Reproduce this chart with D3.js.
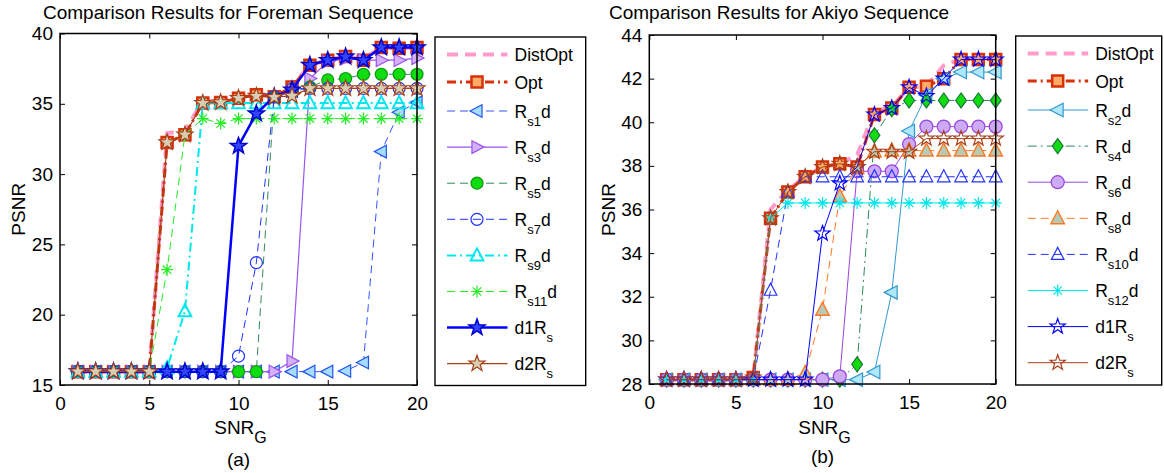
<!DOCTYPE html>
<html>
<head>
<meta charset="utf-8">
<script src="https://cdn.jsdelivr.net/npm/d3@7"></script>
<style>
body{margin:0;background:#fff}
svg{display:block}
text{font-family:"Liberation Sans",Arial,Helvetica,sans-serif}
</style>
</head>
<body>
<svg id="c" width="1164" height="473"></svg>
<script>
// ---------------- data ----------------
const snrG = [1,2,3,4,5,6,7,8,9,10,11,12,13,14,15,16,17,18,19,20];
const xTicks = [0,5,10,15,20];
const foremanTicksY = [15,20,25,30,35,40];
const akiyoTicksY = [28,30,32,34,36,38,40,42,44];

const foremanLabels = ["DistOpt","Opt","R_{s1}d","R_{s3}d","R_{s5}d","R_{s7}d","R_{s9}d","R_{s11}d","d1R_{s}","d2R_{s}"];
const akiyoLabels   = ["DistOpt","Opt","R_{s2}d","R_{s4}d","R_{s6}d","R_{s8}d","R_{s10}d","R_{s12}d","d1R_{s}","d2R_{s}"];

// Foreman sequence (PSNR vs SNR_G)
const foremanDistOpt = [15.95,15.95,15.95,15.95,15.95,32.9,33.1,35.2,35.2,35.5,35.6,35.6,36.3,37.75,38.1,38.4,38.2,39.0,38.95,39.0];
const foremanOpt     = [15.95,15.95,15.95,15.95,15.95,32.25,32.8,35.05,35.1,35.4,35.65,35.5,36.2,37.75,38.1,38.37,38.1,39.0,38.95,39.0];
const foremanRs1     = [15.95,15.95,15.95,15.95,15.95,15.95,15.95,15.95,15.95,15.95,15.95,15.95,15.95,15.95,15.95,16.0,16.6,31.6,34.4,35.1];
const foremanRs3     = [15.95,15.95,15.95,15.95,15.95,15.95,15.95,15.95,15.95,15.95,15.95,15.95,16.7,36.8,38.0,38.2,38.1,38.1,38.1,38.25];
const foremanRs5     = [15.95,15.95,15.95,15.95,15.95,15.95,15.95,15.95,15.95,15.95,15.95,35.5,35.8,36.2,36.7,36.8,37.1,37.1,37.1,37.1];
const foremanRs7     = [15.95,15.95,15.95,15.95,15.95,15.95,15.95,15.95,15.95,17.05,23.7,35.5,36.05,36.1,36.1,36.1,36.1,36.1,36.1,36.1];
const foremanRs9     = [15.95,15.95,15.95,15.95,15.95,16.2,20.25,35.05,35.05,35.05,35.05,35.05,35.05,35.05,35.05,35.05,35.05,35.05,35.05,35.05];
const foremanRs11    = [15.95,15.95,15.95,15.95,15.95,23.2,32.8,33.95,33.6,33.95,33.95,33.95,33.95,33.95,33.95,33.95,33.95,33.95,33.95,33.95];
const foremanD1Rs    = [15.95,15.95,15.95,15.95,15.95,15.95,15.95,15.95,15.95,32.0,34.3,35.5,36.0,37.75,38.1,38.35,38.1,39.0,39.0,39.0];
const foremanD2Rs    = [15.95,15.95,15.95,15.95,15.95,32.25,32.8,35.05,35.1,35.4,35.55,35.47,35.56,36.1,36.1,36.1,36.1,36.1,36.1,36.1];

// Akiyo sequence (PSNR vs SNR_G)
const akiyoDistOpt = [28.2,28.2,28.2,28.2,28.2,28.3,36.0,36.9,37.5,37.95,38.1,38.5,40.5,40.7,41.6,41.65,42.6,42.9,42.9,42.9];
const akiyoOpt     = [28.2,28.2,28.2,28.2,28.2,28.3,35.6,36.8,37.5,37.95,38.1,37.95,40.35,40.65,41.6,41.65,42.0,42.88,42.88,42.88];
const akiyoRs2     = [28.2,28.2,28.2,28.2,28.2,28.2,28.2,28.2,28.2,28.2,28.2,28.2,28.55,32.2,39.6,41.25,42.0,42.3,42.3,42.3];
const akiyoRs4     = [28.2,28.2,28.2,28.2,28.2,28.2,28.2,28.2,28.2,28.2,28.2,28.9,39.4,40.6,41.0,41.0,41.0,41.0,41.0,41.0];
const akiyoRs6     = [28.2,28.2,28.2,28.2,28.2,28.2,28.2,28.2,28.2,28.2,28.35,37.75,37.75,37.75,39.0,39.8,39.8,39.8,39.8,39.8];
const akiyoRs8     = [28.2,28.2,28.2,28.2,28.2,28.2,28.2,28.2,28.5,31.4,36.6,37.9,38.65,38.7,38.7,38.7,38.7,38.7,38.7,38.7];
const akiyoRs10    = [28.2,28.2,28.2,28.2,28.2,28.2,32.3,36.8,37.5,37.5,37.5,37.5,37.5,37.5,37.5,37.5,37.5,37.5,37.5,37.5];
const akiyoRs12    = [28.2,28.2,28.2,28.2,28.2,28.2,35.6,36.3,36.3,36.3,36.3,36.3,36.3,36.3,36.3,36.3,36.3,36.3,36.3,36.3];
const akiyoD1Rs    = [28.2,28.2,28.2,28.2,28.2,28.2,28.2,28.2,28.2,34.9,37.2,37.95,40.35,40.65,41.6,41.2,42.0,42.88,42.88,42.88];
const akiyoD2Rs    = [28.2,28.2,28.2,28.2,28.2,28.3,35.6,36.8,37.5,37.95,38.1,37.95,38.65,38.65,38.65,39.25,39.25,39.25,39.25,39.25];

// ---------------- drawing ----------------
const svg = d3.select("#c");
const DASH = "8,5", DASHDOT = "9,4,2,4", PINKDASH = "11,7";

function starPath(r){
  let p = "";
  for (let i = 0; i < 10; i++){
    const a = -Math.PI/2 + i*Math.PI/5;
    const rr = (i % 2) ? r*0.4 : r;
    p += (i ? "L" : "M") + (rr*Math.cos(a)).toFixed(2) + "," + (rr*Math.sin(a)).toFixed(2);
  }
  return p + "Z";
}
function markerPath(type, r){
  switch(type){
    case "square": return `M${-r},${-r}h${2*r}v${2*r}h${-2*r}Z`;
    case "circle": return `M${r},0A${r},${r} 0 1,1 ${-r},0A${r},${r} 0 1,1 ${r},0Z`;
    case "triUp": return `M0,${-r}L${r*0.9},${r*0.72}L${-r*0.9},${r*0.72}Z`;
    case "triLeft": return `M${-r},0L${r*0.72},${-r*0.9}L${r*0.72},${r*0.9}Z`;
    case "triRight": return `M${r},0L${-r*0.72},${-r*0.9}L${-r*0.72},${r*0.9}Z`;
    case "diamond": return `M0,${-r}L${r*0.72},0L0,${r}L${-r*0.72},0Z`;
    case "asterisk": {
      const k = r*0.7;
      return `M${-r},0L${r},0M0,${-r}L0,${r}M${-k},${-k}L${k},${k}M${-k},${k}L${k},${-k}`;
    }
    case "star": return starPath(r);
  }
  return "";
}

function richText(sel, label, size, subSize, subDy){
  const parts = [];
  const re = /_\{([^}]*)\}|([^_]+)/g;
  let m;
  while ((m = re.exec(label)) !== null){
    if (m[1] !== undefined) parts.push({t:m[1], sub:true});
    else parts.push({t:m[2], sub:false});
  }
  let shifted = false;
  parts.forEach(p => {
    const ts = sel.append("tspan").text(p.t);
    if (p.sub){
      ts.attr("font-size", subSize).attr("dy", subDy);
      shifted = true;
    } else {
      ts.attr("font-size", size);
      if (shifted){ ts.attr("dy", -subDy); shifted = false; }
    }
  });
}

function drawPanel(p){
  const g = svg.append("g");
  const x = d3.scaleLinear().domain([0,20]).range([p.left, p.right]);
  const y = d3.scaleLinear().domain(p.yDomain).range([p.bottom, p.top]);

  // axes with inward ticks on all four sides
  const styleAxis = sel => {
    sel.select(".domain").remove();
    sel.selectAll("line").attr("stroke","#000").attr("stroke-width",1);
    sel.selectAll("text").attr("font-family",'"Liberation Sans",Arial,sans-serif').attr("font-size",19).attr("fill","#000");
  };
  g.append("g").attr("transform",`translate(0,${p.bottom})`)
    .call(d3.axisBottom(x).tickValues(xTicks).tickSizeInner(-5).tickSizeOuter(0).tickPadding(12).tickFormat(d3.format("d")))
    .call(styleAxis);
  g.append("g").attr("transform",`translate(0,${p.top})`)
    .call(d3.axisTop(x).tickValues(xTicks).tickSizeInner(-5).tickSizeOuter(0).tickFormat(""))
    .call(styleAxis);
  g.append("g").attr("transform",`translate(${p.left},0)`)
    .call(d3.axisLeft(y).tickValues(p.yTicks).tickSizeInner(-5).tickSizeOuter(0).tickPadding(7).tickFormat(d3.format("d")))
    .call(styleAxis);
  g.append("g").attr("transform",`translate(${p.right},0)`)
    .call(d3.axisRight(y).tickValues(p.yTicks).tickSizeInner(-5).tickSizeOuter(0).tickFormat(""))
    .call(styleAxis);

  // series
  const line = d3.line().x((d,i) => x(snrG[i])).y(d => y(d));
  p.series.forEach(s => {
    const sg = g.append("g");
    sg.append("path").attr("d", line(s.values))
      .attr("fill","none").attr("stroke", s.color).attr("stroke-width", s.lw)
      .attr("stroke-dasharray", s.dash || null);
    if (s.marker){
      sg.selectAll("path.m").data(s.values).join("path").attr("class","m")
        .attr("transform",(d,i) => `translate(${x(snrG[i])},${y(d)})`)
        .attr("d", markerPath(s.marker, s.ms))
        .attr("fill", s.fill || "none")
        .attr("stroke", s.mstroke || s.color)
        .attr("stroke-width", s.mlw || 1.2);
    }
  });

  // frame
  g.append("rect").attr("x",p.left).attr("y",p.top)
    .attr("width",p.right-p.left).attr("height",p.bottom-p.top)
    .attr("fill","none").attr("stroke","#000").attr("stroke-width",1.5);

  const cx = (p.left + p.right)/2;
  // title
  g.append("text").attr("x",p.titleX).attr("y",18.5).attr("text-anchor","start")
    .attr("font-size",19).text(p.title);
  // y label
  g.append("text").attr("transform",`translate(${p.ylabX},${(p.top+p.bottom)/2}) rotate(-90)`)
    .attr("text-anchor","middle").attr("font-size",19).text("PSNR");
  // x label
  const xl = g.append("text").attr("x",cx + 2).attr("y",p.xlabY).attr("text-anchor","middle");
  richText(xl, "SNR_{G}", 19, 16, 9);
  // caption
  g.append("text").attr("x",cx).attr("y",p.capY).attr("text-anchor","middle")
    .attr("font-size",19).text(p.caption);

  // legend
  const L = p.legend;
  g.append("rect").attr("x",L.x).attr("y",L.y).attr("width",L.w).attr("height",L.h)
    .attr("fill","#fff").attr("stroke","#000").attr("stroke-width",1.4);
  p.series.forEach((s,i) => {
    const ry = i === 0 ? L.y + 17.5 : (i === 1 ? L.y + 45 : L.y + 74 + (i-2)*36.1);
    const lg = g.append("g");
    lg.append("line").attr("x1",L.x+12).attr("x2",L.x+72.5).attr("y1",ry).attr("y2",ry)
      .attr("stroke", s.color).attr("stroke-width", s.lw).attr("stroke-dasharray", s.dash || null);
    if (s.marker){
      lg.append("path").attr("transform",`translate(${L.x+42},${ry})`)
        .attr("d", markerPath(s.marker, s.ms))
        .attr("fill", s.fill || "none").attr("stroke", s.mstroke || s.color)
        .attr("stroke-width", s.mlw || 1.2);
    }
    const t = lg.append("text").attr("x",L.x+79.5).attr("y",ry+6.5).attr("font-size",17.5);
    richText(t, s.label, 17.5, 13, 8);
  });
}

// ----- Foreman panel -----
drawPanel({
  left:60, right:417, top:33.5, bottom:385,
  yDomain:[15,40], yTicks:foremanTicksY,
  title:"Comparison Results for Foreman Sequence", titleX:43,
  ylabX:25, xlabY:434, capY:466, caption:"(a)",
  legend:{x:435, y:37, w:150.7, h:348.5},
  series:[
    {label:foremanLabels[0], values:foremanDistOpt, color:"#ff9ccc", lw:4, dash:PINKDASH},
    {label:foremanLabels[1], values:foremanOpt, color:"#d83008", lw:3, dash:DASHDOT, marker:"square", ms:5.5, fill:"#ffaa66", mstroke:"#d83008", mlw:2.5},
    {label:foremanLabels[2], values:foremanRs1, color:"#3355ff", lw:1, dash:DASH, marker:"triLeft", ms:7, fill:"#a6dcff", mstroke:"#2255ee"},
    {label:foremanLabels[3], values:foremanRs3, color:"#9955ee", lw:1.2, marker:"triRight", ms:7, fill:"#d5b0f7", mstroke:"#9955ee"},
    {label:foremanLabels[4], values:foremanRs5, color:"#2e8b57", lw:1, dash:DASH, marker:"circle", ms:6, fill:"#10dd10", mstroke:"#0a9a0a"},
    {label:foremanLabels[5], values:foremanRs7, color:"#2233ff", lw:1, dash:DASH, marker:"circle", ms:6, fill:"none", mstroke:"#2233ff"},
    {label:foremanLabels[6], values:foremanRs9, color:"#00e8ee", lw:2, dash:DASHDOT, marker:"triUp", ms:7, fill:"none", mstroke:"#00e8ee", mlw:2},
    {label:foremanLabels[7], values:foremanRs11, color:"#22ee22", lw:1, dash:DASH, marker:"asterisk", ms:6, mstroke:"#22ee22", mlw:1.2},
    {label:foremanLabels[8], values:foremanD1Rs, color:"#0000ff", lw:2.5, marker:"star", ms:8.5, fill:"#3344ff", mstroke:"#0000cc", mlw:1.5},
    {label:foremanLabels[9], values:foremanD2Rs, color:"#a8401a", lw:1.2, marker:"star", ms:8.5, fill:"#d6cfb4", mstroke:"#a8401a", mlw:1.2}
  ]
});

// ----- Akiyo panel -----
drawPanel({
  left:649.3, right:995.7, top:35, bottom:384,
  yDomain:[28,44], yTicks:akiyoTicksY,
  title:"Comparison Results for Akiyo Sequence", titleX:609,
  ylabX:615, xlabY:434, capY:463, caption:"(b)",
  legend:{x:1015.7, y:36, w:146, h:349},
  series:[
    {label:akiyoLabels[0], values:akiyoDistOpt, color:"#ff9ccc", lw:4, dash:PINKDASH},
    {label:akiyoLabels[1], values:akiyoOpt, color:"#d83008", lw:3, dash:DASHDOT, marker:"square", ms:5.5, fill:"#ffaa66", mstroke:"#d83008", mlw:2.5},
    {label:akiyoLabels[2], values:akiyoRs2, color:"#3399cc", lw:1, marker:"triLeft", ms:7.5, fill:"#aee6fb", mstroke:"#3399cc"},
    {label:akiyoLabels[3], values:akiyoRs4, color:"#2e8b57", lw:1, dash:DASHDOT, marker:"diamond", ms:7.5, fill:"#10dd10", mstroke:"#1a7a3a"},
    {label:akiyoLabels[4], values:akiyoRs6, color:"#9944dd", lw:1, marker:"circle", ms:6.5, fill:"#ccaaf5", mstroke:"#9944dd"},
    {label:akiyoLabels[5], values:akiyoRs8, color:"#ff7722", lw:1, dash:DASH, marker:"triUp", ms:7.5, fill:"#b5cbb5", mstroke:"#ff7722", mlw:1.4},
    {label:akiyoLabels[6], values:akiyoRs10, color:"#2233ff", lw:1, dash:DASH, marker:"triUp", ms:7, fill:"none", mstroke:"#2233ff"},
    {label:akiyoLabels[7], values:akiyoRs12, color:"#00eeee", lw:1, marker:"asterisk", ms:6, mstroke:"#00e5ee", mlw:1.2},
    {label:akiyoLabels[8], values:akiyoD1Rs, color:"#0000ff", lw:1, marker:"star", ms:8, fill:"none", mstroke:"#0000ff", mlw:1.2},
    {label:akiyoLabels[9], values:akiyoD2Rs, color:"#a8401a", lw:1, marker:"star", ms:8, fill:"none", mstroke:"#a8401a", mlw:1.2}
  ]
});
</script>
</body>
</html>
